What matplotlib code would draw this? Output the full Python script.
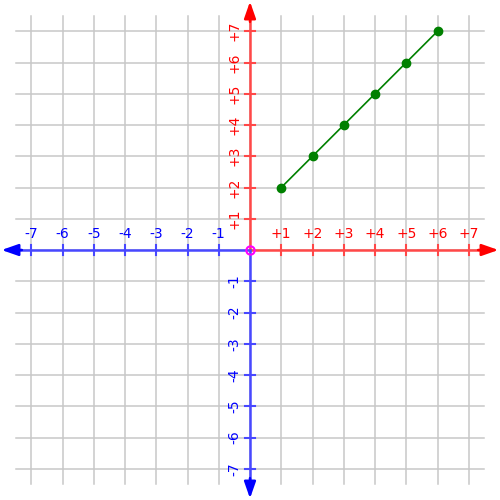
import matplotlib.pyplot as plt

# data
xs = [1, 2, 3, 4, 5, 6]
ys = [2, 3, 4, 5, 6, 7]
ticks = [-7, -6, -5, -4, -3, -2, -1, 1, 2, 3, 4, 5, 6, 7]

red = '#ff4848'
blue = '#4848ff'

fig = plt.figure(figsize=(5, 5), dpi=100)
ax = fig.add_axes([0, 0, 1, 1])
ax.set_xlim(-8, 8)
ax.set_ylim(-8, 8)
ax.axis('off')

# grid
for t in ticks + [0]:
    ax.plot([t, t], [-7.5, 7.5], color='#c8c8c8', lw=1.1, zorder=1)
    ax.plot([-7.5, 7.5], [t, t], color='#c8c8c8', lw=1.1, zorder=1)

# axes, positive red / negative blue
ax.plot([0, 7.6], [0, 0], color=red, lw=1.8, zorder=2)
ax.plot([-7.6, 0], [0, 0], color=blue, lw=1.8, zorder=2)
ax.plot([0, 0], [0, 7.6], color=red, lw=1.8, zorder=2)
ax.plot([0, 0], [-7.6, 0], color=blue, lw=1.8, zorder=2)

arrow = dict(arrowstyle='-|>,head_length=1.0,head_width=0.35', lw=1.8, shrinkA=0, shrinkB=0)
ax.annotate('', xy=(7.95, 0), xytext=(7.3, 0), arrowprops=dict(arrow, color='red'))
ax.annotate('', xy=(-7.95, 0), xytext=(-7.3, 0), arrowprops=dict(arrow, color='blue'))
ax.annotate('', xy=(0, 7.95), xytext=(0, 7.3), arrowprops=dict(arrow, color='red'))
ax.annotate('', xy=(0, -7.95), xytext=(0, -7.3), arrowprops=dict(arrow, color='blue'))

# ticks and labels
for t in ticks:
    c = red if t > 0 else blue
    tc = 'red' if t > 0 else 'blue'
    lab = '+%d' % t if t > 0 else '%d' % t
    ax.plot([t, t], [-0.17, 0.17], color=c, lw=1.5, zorder=2)
    ax.plot([-0.17, 0.17], [t, t], color=c, lw=1.5, zorder=2)
    ax.text(t, 0.5, lab, color=tc, fontsize=10, ha='center', va='center')
    ax.text(-0.5, t, lab, color=tc, fontsize=10, ha='center', va='center', rotation=90)

# origin
ax.plot([0], [0], marker='o', ms=6, mfc='none', mec='magenta', mew=1.5, zorder=3)

# series
ax.plot(xs, ys, color='green', lw=1.2, marker='o', ms=6, zorder=4)

fig.savefig('out.png')
